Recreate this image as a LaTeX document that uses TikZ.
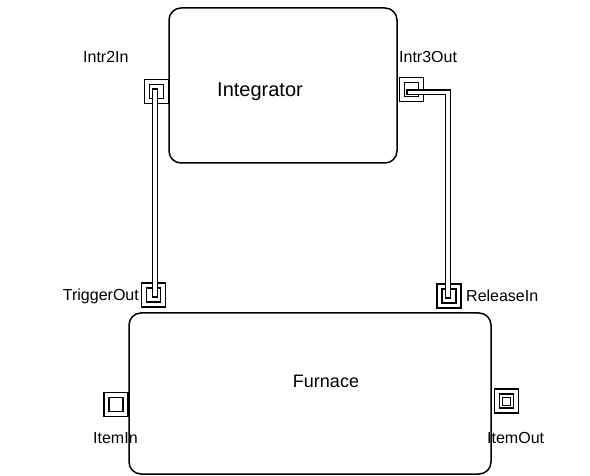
\documentclass[tikz,border=0pt]{standalone}
\usepackage{fontspec}
\setmainfont{Liberation Sans}
\begin{document}
\begin{tikzpicture}[x=1pt,y=-1pt,
  box/.style={draw, line width=1.5pt, rounded corners=12pt, rectangle, inner sep=0},
  portouter/.style={draw, line width=1.3pt, minimum size=24pt, inner sep=0, rectangle},
  portinner/.style={draw, line width=1.3pt, minimum size=14pt, inner sep=0, rectangle},
  portcore/.style={draw, line width=1pt, minimum size=8pt, inner sep=0, rectangle},
  lbl/.style={font=\fontsize{16}{16}\selectfont, inner sep=0},
  title/.style={font=\fontsize{18}{18}\selectfont, inner sep=0},
  connblack/.style={line width=6pt, shorten <=-3pt, shorten >=-3pt},
  connwhite/.style={draw=white, line width=3.2pt, shorten <=-1.5pt, shorten >=-1.5pt}]
\useasboundingbox (0,0) rectangle (590,476);
% blocks
\node[box, minimum width=228pt, minimum height=155pt] (integ) at (283,85.5) {};
\node[box, minimum width=362pt, minimum height=161pt] (furn) at (310,393.5) {};
\node[title, font=\fontsize{20}{20}\selectfont] (integt) at (260,92) {Integrator};
\node[title] (furnt) at (326,381) {Furnace};
% ports
\node[portouter] (p2in) at (156.5,91.5) {};
\node[portinner] (p2ini) at (156.5,91.5) {};
\node[portouter] (p3out) at (411.5,89.5) {};
\node[portinner] (p3outi) at (411.5,89.5) {};
\node[portouter] (ptrig) at (153.5,295) {};
\node[portinner] (ptrigi) at (153.5,295) {};
\node[portouter] (prel) at (449,296) {};
\node[portinner] (preli) at (449,296) {};
\node[portouter] (pin) at (116,404.5) {};
\node[portinner] (pini) at (116,404.5) {};
\node[portouter] (pout) at (506.5,401) {};
\node[portinner] (pouti) at (506.5,401) {};
\node[portcore] (poutc) at (506.5,401) {};
% connectors
\coordinate (bend) at (448,92.5);
\coordinate (c2) at (155,91.5);
\coordinate (ct) at (155,295);
\coordinate (c3) at (409,92.5);
\coordinate (cr) at (448,296);
\draw[connblack] (c2) -- (ct);
\draw[connwhite] (c2) -- (ct);
\draw[connblack] (c3) -- (bend) -- (cr);
\draw[connwhite] (c3) -- (bend) -- (cr);
% labels
\node[lbl, anchor=west] (l2in) at (83,57) {Intr2In};
\node[lbl, anchor=west] (l3out) at (399,57) {Intr3Out};
\node[lbl, anchor=east] (ltrig) at (139,296) {TriggerOut};
\node[lbl, anchor=west] (lrel) at (466,296) {ReleaseIn};
\node[lbl, anchor=west] (lin) at (93,438) {ItemIn};
\node[lbl, anchor=west] (lout) at (487,438) {ItemOut};
\end{tikzpicture}
\end{document}
